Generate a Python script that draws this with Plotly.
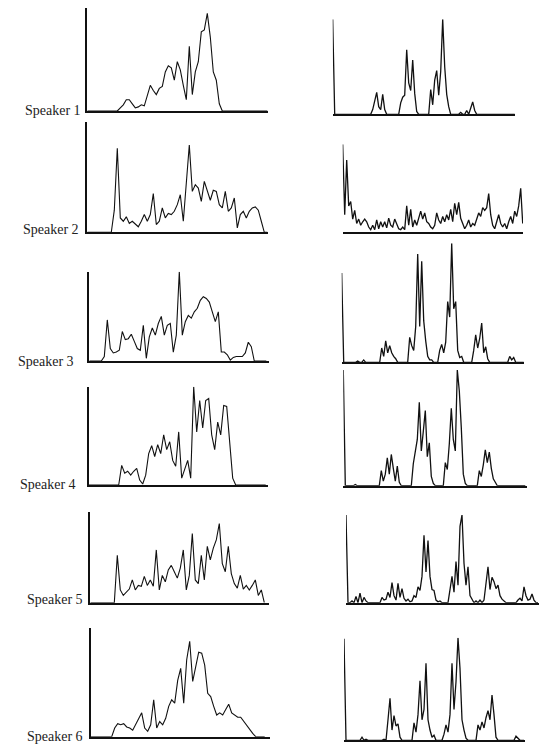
import plotly.graph_objects as go

W, H = 540, 744

speakers = ["Speaker 1", "Speaker 2", "Speaker 3", "Speaker 4", "Speaker 5", "Speaker 6"]

# Left column contours (relative amplitude, 0-100), uniform time steps
L1 = [0,0,0,0,0,0,0,0,0,0,0,
      3,6,11,11,7,3,4,6,5,14,
      25,20,16,22,24,38,44,42,30,48,
      40,25,11,63,16,38,48,77,79,95,
      72,38,30,7,0,
      0,0,0,0,0,0,0,0,0,0,0,0,0,0,0]
L2 = [0,0,0,0,0,0,0,0,0,
      20,76,13,10,14,8,10,7,5,10,
      16,10,16,35,7,10,22,13,17,16,
      19,25,34,10,46,79,37,43,40,28,
      46,37,29,38,37,25,22,37,19,22,
      31,4,16,19,13,19,22,23,20,10,
      0,0]
L3 = [0,0,0,0,0,
      5,46,14,9,10,12,33,24,25,30,
      22,14,12,40,3,27,37,29,42,50,
      29,40,42,10,29,100,29,44,51,48,
      55,59,68,72,70,66,55,44,55,10,
      10,7,1,4,5,5,5,9,21,16,
      0,0,0,0,0]
L4 = [0,0,0,0,0,0,0,0,0,0,0,
      20,12,14,10,14,17,5,1,10,32,
      40,29,41,32,51,36,44,25,19,54,
      7,17,25,7,100,54,86,58,86,88,
      51,36,64,51,81,80,44,7,
      0,0,0,0,0,0,0,0,0,0,0]
L5 = [0,0,0,0,0,0,0,0,0,
      52,14,8,12,15,25,14,19,18,29,
      19,25,18,58,14,30,23,36,41,34,
      27,38,58,14,30,76,25,21,52,25,
      62,47,60,69,87,43,34,62,32,21,
      16,30,15,19,14,19,25,8,14,0]
L6 = [0,0,0,0,0,0,0,0,
      8,12,11,12,9,8,6,11,17,22,
      8,5,11,34,8,14,11,17,28,34,
      31,52,63,31,71,88,51,65,78,77,
      66,40,37,28,20,22,20,25,30,22,
      20,18,18,14,11,6,3,
      0,0,0,0]

# Right column spectra (relative amplitude, 0-100)
R1 = [100,0,0,0,0,0,0,0,0,0,
      0,0,0,0,0,0,0,0,0,0,
      5,15,23,8,5,21,5,0,0,0,
      0,0,0,0,12,18,20,68,33,25,
      57,22,3,0,0,0,0,0,0,26,
      10,36,46,20,45,100,50,21,8,0,
      0,0,0,0,2,0,0,4,0,8,
      13,4,0,0,0,0,0,0,0,0,
      0,0,0,0,0,0,0,0,0,0,
      0,0]
R2 = [100,20,82,30,35,15,25,10,15,8,
      12,15,12,6,3,8,3,14,4,12,
      6,12,5,16,8,6,15,10,4,3,
      6,3,30,8,26,6,14,8,16,24,
      15,22,12,10,6,4,8,22,14,10,
      18,12,20,14,26,12,33,20,34,16,
      10,4,8,14,6,10,8,16,22,18,
      28,25,28,44,20,8,4,12,20,10,
      6,10,4,12,18,10,24,18,30,50,
      10]
R3 = [75,0,0,0,0,0,0,0,1,0,
      0,2,0,0,0,0,0,0,0,0,
      12,5,18,8,14,8,5,3,0,0,
      0,0,0,0,21,14,10,30,91,30,
      85,35,18,5,2,2,0,0,0,10,
      15,8,17,51,38,100,45,51,10,4,
      5,0,0,0,0,0,10,23,12,20,
      33,8,13,3,0,0,0,0,0,0,
      0,0,0,0,5,2,4,0,0,0,
      0,0]
R4 = [100,0,0,0,0,0,1,0,0,0,
      0,0,0,0,0,0,0,0,0,13,
      4,10,24,10,27,15,4,17,3,0,
      0,0,0,0,0,19,29,40,72,30,
      47,65,25,37,8,2,0,0,0,0,
      0,20,14,36,67,40,30,100,82,50,
      10,2,0,0,0,0,0,0,13,8,
      18,31,20,29,15,6,3,0,0,0,
      0,0,0,0,0,0,0,0,0,0,
      0,0]
R5 = [100,0,0,2,0,7,0,11,0,6,
      2,0,0,0,0,0,0,0,6,3,
      4,12,6,23,8,3,22,6,16,5,
      2,4,1,2,8,6,18,14,30,77,
      35,71,30,15,14,3,1,2,0,0,
      0,0,15,30,12,47,20,87,100,45,
      20,41,8,4,0,2,0,3,0,3,
      22,41,15,29,24,16,20,8,4,2,
      0,0,0,0,0,0,3,5,2,18,
      8,3,4,10,3,0,0]
R6 = [99,0,0,0,0,0,0,0,0,3,
      0,1,0,0,0,0,0,0,0,0,
      1,0,20,41,10,24,14,16,3,0,
      0,0,0,0,0,17,8,25,58,20,
      30,75,20,10,3,5,0,0,0,0,
      6,15,8,25,75,30,57,100,70,20,
      10,2,0,0,0,0,0,15,10,18,
      12,22,29,20,44,25,3,0,0,0,
      0,0,0,0,0,0,4,2,0,0,
      0]

left_series = [L1, L2, L3, L4, L5, L6]
right_series = [R1, R2, R3, R4, R5, R6]

# panel boxes in pixels: (x_left, x_right, y_bottom, y_top)
left_boxes = [(87.3, 268, 111, 8.3), (87.3, 268, 232.3, 121.7), (89.3, 269, 361, 271.7),
              (88.7, 268, 485, 386.7), (90.3, 269, 602.7, 511.7), (90.7, 270, 736.7, 628.3)]
right_boxes = [(332.7, 515, 114.3, 19.3), (342.7, 523, 232.3, 144.3), (341.7, 524, 362.3, 243.3),
               (343.3, 527, 485.7, 370), (346, 538.5, 602.7, 515), (344, 525, 740.3, 637.7)]
left_step = 3.0
right_step = 2.0
label_pos = [(83, 111), (81, 230), (76, 361), (78, 484), (85, 599), (85, 736)]

fig = go.Figure()
layout = dict(width=W, height=H, margin=dict(l=0, r=0, t=0, b=0),
              paper_bgcolor="white", plot_bgcolor="white", showlegend=False)

panels = []
for i in range(6):
    panels.append((left_series[i], left_boxes[i], left_step, True, 1.1))
    panels.append((right_series[i], right_boxes[i], right_step, False, 1.3))

for k, (vals, box, step, yline, lw) in enumerate(panels, start=1):
    x0, x1, yb, yt = box
    xs = list(range(len(vals)))
    sfx = "" if k == 1 else str(k)
    fig.add_trace(go.Scatter(x=xs, y=vals, mode="lines",
                             line=dict(color="#111111", width=lw),
                             xaxis="x" + sfx, yaxis="y" + sfx, hoverinfo="skip"))
    layout["xaxis" + sfx] = dict(domain=[x0 / W, x1 / W], range=[0, (x1 - x0) / step],
                                  anchor="y" + sfx, showgrid=False, zeroline=False,
                                  showticklabels=False, ticks="", showline=True,
                                  linecolor="#111111", linewidth=2)
    layout["yaxis" + sfx] = dict(domain=[1 - yb / H, 1 - yt / H], range=[0, 100],
                                  anchor="x" + sfx, showgrid=False, zeroline=False,
                                  showticklabels=False, ticks="", showline=yline,
                                  linecolor="#111111", linewidth=1.5)

annotations = []
for name, (px, py) in zip(speakers, label_pos):
    annotations.append(dict(text=name, x=px / W, y=1 - py / H, xref="paper", yref="paper",
                            xanchor="right", yanchor="middle", showarrow=False,
                            font=dict(family="Liberation Serif", size=14, color="#222222")))
layout["annotations"] = annotations

fig.update_layout(**layout)
fig.write_html("out.html", config={"displayModeBar": False},
               post_script="document.body.style.margin='0';document.body.style.overflow='hidden';")
